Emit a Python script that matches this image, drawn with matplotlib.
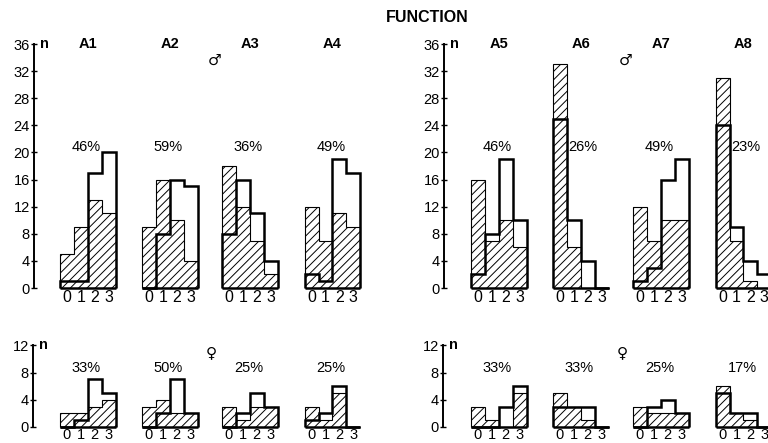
import matplotlib
matplotlib.use("Agg")
import matplotlib.pyplot as plt
import numpy as np

plt.rcParams['font.family'] = ['Liberation Sans', 'DejaVu Sans']
plt.rcParams['hatch.linewidth'] = 0.7
plt.rcParams['hatch.color'] = 'black'

# ---- data ----
categories = [0, 1, 2, 3]
panels_left = ['A1', 'A2', 'A3', 'A4']
panels_right = ['A5', 'A6', 'A7', 'A8']

# male (top row): hatched histogram and open (thick outline) histogram
male_hatched = [
    [5, 9, 13, 11],   # A1
    [9, 16, 10, 4],   # A2
    [18, 12, 7, 2],   # A3
    [12, 7, 11, 9],   # A4
    [16, 7, 10, 6],   # A5
    [33, 6, 0, 0],    # A6
    [12, 7, 10, 10],  # A7
    [31, 7, 1, 0],    # A8
]
male_open = [
    [1, 1, 17, 20],
    [0, 8, 16, 15],
    [8, 16, 11, 4],
    [2, 1, 19, 17],
    [2, 8, 19, 10],
    [25, 10, 4, 0],
    [1, 3, 16, 19],
    [24, 9, 4, 2],
]
male_pct = ['46%', '59%', '36%', '49%', '46%', '26%', '49%', '23%']

# female (bottom row)
female_hatched = [
    [2, 2, 3, 4],
    [3, 4, 2, 2],
    [3, 1, 3, 3],
    [3, 1, 5, 0],
    [3, 1, 0, 5],
    [5, 3, 1, 0],
    [3, 2, 2, 2],
    [6, 2, 1, 0],
]
female_open = [
    [0, 1, 7, 5],
    [0, 2, 7, 2],
    [0, 2, 5, 3],
    [1, 2, 6, 0],
    [0, 0, 3, 6],
    [3, 3, 3, 0],
    [0, 3, 4, 2],
    [5, 2, 2, 0],
]
female_pct = ['33%', '50%', '25%', '25%', '33%', '33%', '25%', '17%']

male_yticks = [0, 4, 8, 12, 16, 20, 24, 28, 32, 36]
female_yticks = [0, 4, 8, 12]

# ---- layout ----
W, H = 768, 443
fig = plt.figure(figsize=(W / 100, H / 100), dpi=100)

unit = 13.9                      # px per bar
offsets = [0, 5.9, 11.65, 17.6]  # panel starts in bar units
xmax = 22.6


def make_axes(spine_px, zero_px, y0_px, ytop_px, ymax):
    xmin = -(zero_px - spine_px) / unit
    left = spine_px / W
    width = (xmax - xmin) * unit / W
    bottom = (H - y0_px) / H
    height = (y0_px - ytop_px) / H
    ax = fig.add_axes([left, bottom, width, height])
    ax.set_xlim(xmin, xmax)
    ax.set_ylim(0, ymax)
    for s in ['top', 'right', 'bottom']:
        ax.spines[s].set_visible(False)
    ax.spines['left'].set_linewidth(1.4)
    ax.set_xticks([])
    ax.tick_params(axis='y', direction='inout', length=4, width=1,
                   labelsize=10.5, pad=1)
    ax.patch.set_alpha(0)
    return ax, xmin


def draw_panel(ax, off, hatched, openv, ylab_y, labsize):
    x = np.array(categories) + off
    edges = np.arange(len(categories) + 1) + off
    bars = ax.bar(x, hatched, width=1, align='edge', fill=False,
                  hatch='////', edgecolor='black', linewidth=0)
    for b in bars:
        b.set_clip_on(False)
    ax.stairs(hatched, edges, baseline=0, color='black', linewidth=0.8,
              clip_on=False)
    ax.stairs(openv, edges, baseline=0, color='black', linewidth=1.8,
              clip_on=False)
    ax.hlines(0, edges[0], edges[-1], color='black', linewidth=1.8,
              clip_on=False)
    for c in categories:
        ax.text(off + c + 0.5, ylab_y, str(c), ha='center', va='center',
                fontsize=labsize)


# top row
for half, (spine_px, zero_px) in enumerate([(34, 60), (444, 471)]):
    ax, xmin = make_axes(spine_px, zero_px, 288, 44, 36)
    ax.set_yticks(male_yticks)
    ax.text(xmin + 0.45, 36, 'n', ha='left', va='center', fontsize=10.5,
            fontweight='bold')
    names = panels_left if half == 0 else panels_right
    for k in range(4):
        idx = half * 4 + k
        off = offsets[k]
        draw_panel(ax, off, male_hatched[idx], male_open[idx], -1.4, 11.5)
        ax.text(off + 2, 36, names[k], ha='center', va='center',
                fontsize=10.5, fontweight='bold')
        if max(male_hatched[idx][0], male_open[idx][0]) > 22:
            ax.text(off + 1.1, 20.8, male_pct[idx], ha='left',
                    va='center', fontsize=10.5)
        else:
            ax.text(off + 1.9, 20.8, male_pct[idx], ha='center',
                    va='center', fontsize=10.5)
    ax.text(11.1, 33.6, '\u2642', ha='center', va='center', fontsize=11,
            family='DejaVu Sans')

# bottom row
for half, (spine_px, zero_px) in enumerate([(33, 60), (443, 471)]):
    ax, xmin = make_axes(spine_px, zero_px, 427, 345.4, 12)
    ax.set_yticks(female_yticks)
    ax.text(xmin + 0.45, 12, 'n', ha='left', va='center', fontsize=10.5,
            fontweight='bold')
    for k in range(4):
        idx = half * 4 + k
        off = offsets[k]
        draw_panel(ax, off, female_hatched[idx], female_open[idx], -1.2,
                   10.5)
        ax.text(off + 1.9, 8.7, female_pct[idx], ha='center', va='center',
                fontsize=10.5)
    ax.text(10.85, 10.9, '\u2640', ha='center', va='center', fontsize=11,
            family='DejaVu Sans')

fig.text(427 / W, 1 - 18 / H, 'FUNCTION', ha='center', va='center',
         fontsize=11.5, fontweight='bold')

fig.savefig('out.png', dpi=100)
